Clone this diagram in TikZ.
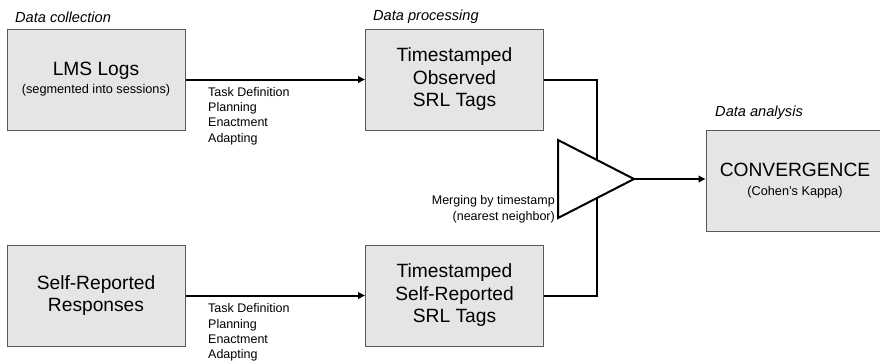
\documentclass[tikz,border=0pt]{standalone}
\usepackage{fontspec}
\setmainfont{Liberation Sans}
\usetikzlibrary{arrows.meta,calc}
\newcommand{\bigtxt}{\fontsize{19.2}{22.5}\selectfont}
\newcommand{\smalltxt}{\fontsize{12.7}{15}\selectfont}
% centred block of lines, lowered a little inside its box
\newcommand{\boxlines}[2]{\raisebox{#1}{\parbox{170pt}{\centering #2}}}
\tikzset{
  box/.style={draw=black!65, line width=1pt, fill=black!10, minimum width=178pt, minimum height=101pt, align=center, inner sep=0pt, font=\bigtxt},
  stage/.style={font=\fontsize{14.6}{17}\selectfont\itshape, anchor=west, inner sep=0pt},
  tags/.style={font=\fontsize{12.5}{15.3}\selectfont, align=left, anchor=north west, inner sep=0pt},
  flow/.style={line width=2pt, -{Triangle[length=7pt,width=6.5pt]}},
  mergeline/.style={line width=2pt},
}
\begin{document}
\begin{tikzpicture}[x=1pt,y=-1pt]
\useasboundingbox (0,0) rectangle (880,360);

% stage headings
\node[stage] (h1) at (15,17) {Data collection};
\node[stage] (h2) at (373,17) {Data processing};
\node[stage] (h3) at (715,113) {Data analysis};

% boxes
\node[box] (lms) at (96,79.5) {\boxlines{-1.5pt}{LMS Logs\\[-4.5pt]{\smalltxt (segmented into sessions)}}};
\node[box] (obs) at (454.5,79.5) {\boxlines{-2pt}{Timestamped\\ Observed\\ SRL Tags}};
\node[box] (self) at (96,295.5) {Self-Reported\\ Responses};
\node[box] (srep) at (454.5,295.5) {\boxlines{-2pt}{Timestamped\\ Self-Reported\\ SRL Tags}};
\node[box] (conv) at (795,180.5) {CONVERGENCE\\[-3.5pt]{\smalltxt (Cohen's Kappa)}};

% merge triangle
\coordinate (tA) at (558,140);
\coordinate (tB) at (558,218);
\coordinate (tC) at (634,179);
\draw[line width=2pt, line join=miter, fill=white] (tA) -- (tC) -- (tB) -- cycle;
\coordinate (in1) at ($(tA)!0.513!(tC)$);
\coordinate (in2) at ($(tB)!0.513!(tC)$);

% connectors
\draw[flow] (lms.east) -- (obs.west);
\draw[flow] (self.east) -- (srep.west);
\draw[mergeline] (obs.east) -| (in1);
\draw[mergeline] (srep.east) -| (in2);
\draw[flow] (tC) -- (tC -| conv.west);

% labels
\node[tags] (l1) at (208,87) {Task Definition\\Planning\\Enactment\\Adapting};
\node[tags] (l2) at (208,303.5) {Task Definition\\Planning\\Enactment\\Adapting};
\node[font=\fontsize{12.5}{16}\selectfont, align=right, anchor=east, inner sep=0pt] (mg) at (555,209) {Merging by timestamp\\(nearest neighbor)};
\end{tikzpicture}
\end{document}
